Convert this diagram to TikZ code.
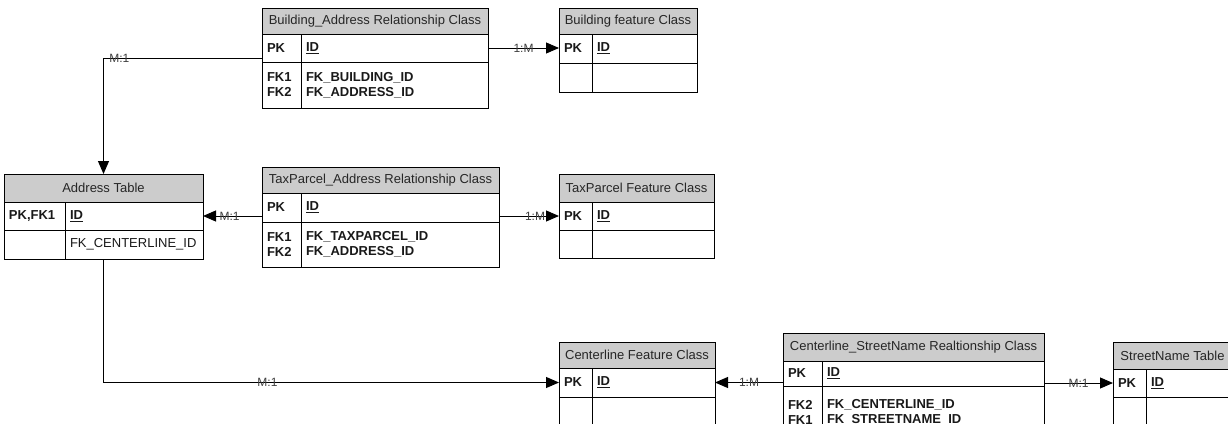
\documentclass[tikz,border=0pt]{standalone}
\usepackage{fontspec}
\setmainfont{Liberation Sans}
\usepackage{tikz}
\usetikzlibrary{positioning, calc, arrows.meta}

\newcommand{\hdrfont}{\fontsize{13}{15}\selectfont}
\newcommand{\cellfont}{\fontsize{13}{15}\selectfont}
\newcommand{\cardfont}{\fontsize{12}{14}\selectfont}

\begin{document}
\begin{tikzpicture}[x=1pt, y=-1pt,
    hdr/.style={draw, line width=0.8pt, fill=gray!40, inner sep=0pt, outer sep=0pt, anchor=north west, font=\hdrfont, text=black!85},
    cell/.style={draw, line width=0.8pt, inner xsep=5pt, inner ysep=0pt, outer sep=0pt, align=left, anchor=north west, text=black!90},
    keycell/.style={cell, font=\cellfont\bfseries},
    plaincell/.style={cell, font=\cellfont},
    rel/.style={line width=1pt, -{Triangle[length=13pt, width=11pt]}},
    card/.style={font=\cardfont, text=black!75, inner sep=0pt}]
      \useasboundingbox (0,0) rectangle (1228,423);
      \clip (0,0) rectangle (1228,423);

      \node[hdr, minimum width=226pt, minimum height=26pt] (ba) at (262,8) {Building\_Address Relationship Class};
      \node[keycell, text width=29pt, minimum height=28pt] (ba-pk) at (ba.south west) {PK};
      \node[keycell, text width=177pt, minimum height=28pt] (ba-id) at (ba-pk.north east) {\underline{ID}};
      \node[keycell, text width=29pt, minimum height=46pt] (ba-fk) at (ba-pk.south west) {FK1\\FK2};
      \node[keycell, text width=177pt, minimum height=46pt] (ba-fld) at (ba-fk.north east) {FK\_BUILDING\_ID\\FK\_ADDRESS\_ID};

      \node[hdr, minimum width=138pt, minimum height=26pt] (bf) at (559,8) {Building feature Class};
      \node[keycell, text width=23pt, minimum height=29pt] (bf-pk) at (bf.south west) {PK};
      \node[keycell, text width=95pt, minimum height=29pt] (bf-id) at (bf-pk.north east) {\underline{ID}};
      \node[keycell, text width=23pt, minimum height=29pt] (bf-fk) at (bf-pk.south west) {};
      \node[keycell, text width=95pt, minimum height=29pt] (bf-fld) at (bf-fk.north east) {};

      \node[hdr, minimum width=237pt, minimum height=26pt] (ta) at (262,167) {TaxParcel\_Address Relationship Class};
      \node[keycell, text width=29pt, minimum height=29pt] (ta-pk) at (ta.south west) {PK};
      \node[keycell, text width=188pt, minimum height=29pt] (ta-id) at (ta-pk.north east) {\underline{ID}};
      \node[keycell, text width=29pt, minimum height=45pt] (ta-fk) at (ta-pk.south west) {FK1\\FK2};
      \node[keycell, text width=188pt, minimum height=45pt] (ta-fld) at (ta-fk.north east) {FK\_TAXPARCEL\_ID\\FK\_ADDRESS\_ID};

      \node[hdr, minimum width=155pt, minimum height=28pt] (tf) at (559,174) {TaxParcel Feature Class};
      \node[keycell, text width=23pt, minimum height=28pt] (tf-pk) at (tf.south west) {PK};
      \node[keycell, text width=112pt, minimum height=28pt] (tf-id) at (tf-pk.north east) {\underline{ID}};
      \node[keycell, text width=23pt, minimum height=28pt] (tf-fk) at (tf-pk.south west) {};
      \node[keycell, text width=112pt, minimum height=28pt] (tf-fld) at (tf-fk.north east) {};

      \node[hdr, minimum width=199pt, minimum height=28pt] (addr) at (4,174) {Address Table};
      \node[keycell, text width=51pt, minimum height=28pt] (addr-pk) at (addr.south west) {PK,FK1};
      \node[keycell, text width=128pt, minimum height=28pt] (addr-id) at (addr-pk.north east) {\underline{ID}};
      \node[keycell, text width=51pt, minimum height=29pt] (addr-fk) at (addr-pk.south west) {};
      \node[plaincell, text width=128pt, minimum height=29pt] (addr-fld) at (addr-fk.north east) {FK\_CENTERLINE\_ID};

      \node[hdr, minimum width=156pt, minimum height=26pt] (cf) at (559,342) {Centerline Feature Class};
      \node[keycell, text width=23pt, minimum height=29pt] (cf-pk) at (cf.south west) {PK};
      \node[keycell, text width=113pt, minimum height=29pt] (cf-id) at (cf-pk.north east) {\underline{ID}};
      \node[keycell, text width=23pt, minimum height=30pt] (cf-fk) at (cf-pk.south west) {};
      \node[keycell, text width=113pt, minimum height=30pt] (cf-fld) at (cf-fk.north east) {};

      \node[hdr, minimum width=261pt, minimum height=28pt] (cs) at (783,333) {Centerline\_StreetName Realtionship Class};
      \node[keycell, text width=29pt, minimum height=25pt] (cs-pk) at (cs.south west) {PK};
      \node[keycell, text width=212pt, minimum height=25pt] (cs-id) at (cs-pk.north east) {\underline{ID}};
      \node[keycell, text width=29pt, minimum height=52pt] (cs-fk) at (cs-pk.south west) {FK2\\FK1};
      \node[keycell, text width=212pt, minimum height=52pt] (cs-fld) at (cs-fk.north east) {FK\_CENTERLINE\_ID\\FK\_STREETNAME\_ID};

      \node[hdr, minimum width=119pt, minimum height=27pt] (st) at (1113,342) {StreetName Table};
      \node[keycell, text width=23pt, minimum height=28pt] (st-pk) at (st.south west) {PK};
      \node[keycell, text width=76pt, minimum height=28pt] (st-id) at (st-pk.north east) {\underline{ID}};
      \node[keycell, text width=23pt, minimum height=30pt] (st-fk) at (st-pk.south west) {};
      \node[keycell, text width=76pt, minimum height=30pt] (st-fld) at (st-fk.north east) {};

      \draw[rel] ($(ba-pk.south west)+(0,-4)$) -| node[card, pos=0.45] {M:1} (addr.north);
      \draw[rel] (ba-id.east) -- node[card] {1:M} (ba-id.east -| bf-pk.west);
      \draw[rel] (ta-pk.west |- addr-id.east) -- node[card, pos=0.55] {M:1} (addr-id.east);
      \draw[rel] (ta-id.east |- tf-pk.west) -- node[card, pos=0.6] {1:M} (tf-pk.west);
      \draw[rel] (addr.south |- addr-fk.south) |- node[card, pos=0.68] {M:1} (cf-pk.west);
      \draw[rel] (cs-pk.west |- cf-id.east) -- node[card] {1:M} (cf-id.east);
      \draw[rel] (cs-id.east |- st-pk.west) -- node[card] {M:1} (st-pk.west);
    \end{tikzpicture}
\end{document}
